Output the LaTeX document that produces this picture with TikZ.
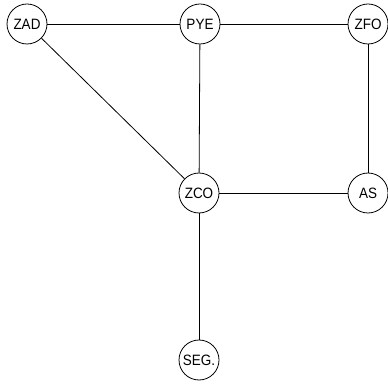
\documentclass[tikz,border=0pt]{standalone}
\usepackage{fontspec}
\setmainfont[FakeStretch=0.9]{Liberation Sans}
\begin{document}
\begin{tikzpicture}[x=1pt,y=-1pt,
  stn/.style={draw,circle,minimum size=40pt,inner sep=0pt,font=\fontsize{15}{15}\selectfont},
  every path/.style={line width=0.8pt}]
\useasboundingbox (0,0) rectangle (388,387);
\node[stn] (zad) at (27,24) {ZAD};
\node[stn] (pye) at (200,24) {PYE};
\node[stn] (zfo) at (368,24) {ZFO};
\node[stn] (zco) at (199,193) {ZCO};
\node[stn] (as) at (368,193) {AS};
\node[stn] (seg) at (199,360) {SEG.};
\draw (zad) -- (pye);
\draw (pye) -- (zfo);
\draw (zad) -- (zco);
\draw (pye) -- (zco);
\draw (zfo) -- (as);
\draw (zco) -- (as);
\draw (zco) -- (seg);
\end{tikzpicture}
\end{document}
